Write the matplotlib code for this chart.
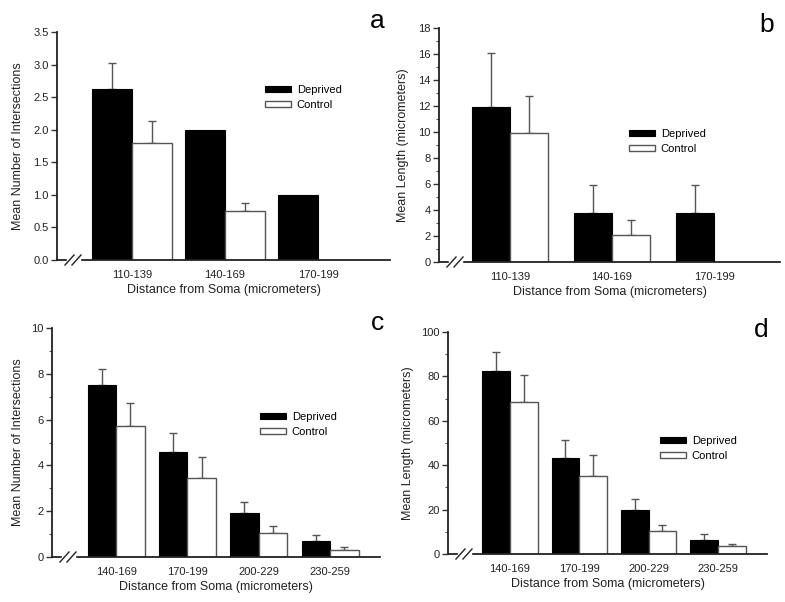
import numpy as np
import matplotlib
matplotlib.use("Agg")
import matplotlib.pyplot as plt
from matplotlib.ticker import MultipleLocator, FormatStrFormatter
from matplotlib.lines import Line2D
from matplotlib.patches import Rectangle

plt.rcParams['font.family'] = ['Liberation Sans', 'DejaVu Sans']

W, H = 785, 602

# panel a: intersections, 110-199
a_groups = ['110-139', '140-169', '170-199']
a_dep = [2.63, 2.0, 1.0]
a_dep_err = [0.39, 0, 0]
a_con = [1.80, 0.75, np.nan]
a_con_err = [0.34, 0.13, 0]

# panel b: length, 110-199
b_groups = ['110-139', '140-169', '170-199']
b_dep = [11.9, 3.8, 3.8]
b_dep_err = [4.2, 2.15, 2.15]
b_con = [9.9, 2.05, np.nan]
b_con_err = [2.85, 1.15, 0]

# panel c: intersections, 140-259
c_groups = ['140-169', '170-199', '200-229', '230-259']
c_dep = [7.52, 4.58, 1.93, 0.70]
c_dep_err = [0.68, 0.85, 0.45, 0.25]
c_con = [5.72, 3.45, 1.05, 0.32]
c_con_err = [1.0, 0.9, 0.31, 0.12]

# panel d: length, 140-259
d_groups = ['140-169', '170-199', '200-229', '230-259']
d_dep = [82.6, 43.1, 19.7, 6.3]
d_dep_err = [8.2, 8.3, 5.1, 2.6]
d_con = [68.5, 35.3, 10.5, 3.45]
d_con_err = [12.0, 9.1, 2.6, 1.05]

fig = plt.figure(figsize=(W / 100, H / 100), dpi=100)


def panel(box, groups, dep, dep_err, con, con_err, ymax, major, minor, fmt,
          xlim, width, ylabel, ylabel_x, letter, leg_xy, letter_xy):
    left, right, top, bottom = box
    ax = fig.add_axes([left / W, 1 - bottom / H, (right - left) / W, (bottom - top) / H])
    x = np.arange(len(groups))
    ax.bar(x - width / 2, dep, width, color='black', edgecolor='black', lw=0.8, label='Deprived', zorder=2)
    ax.bar(x + width / 2, con, width, color='white', edgecolor='#555555', lw=1.0, label='Control', zorder=2)
    # error bars only go up
    for xs, vals, errs in [(x - width / 2, dep, dep_err), (x + width / 2, con, con_err)]:
        vals = np.array(vals, dtype=float)
        errs = np.array(errs, dtype=float)
        m = errs > 0
        ax.errorbar(xs[m], vals[m], yerr=[np.zeros(m.sum()), errs[m]], fmt='none',
                    ecolor='#555555', elinewidth=1.0, capsize=3, capthick=1.0, zorder=1)
    ax.set_xlim(*xlim)
    ax.set_ylim(0, ymax)
    ax.set_xticks(x)
    ax.set_xticklabels(groups, fontsize=8, color='#222222')
    ax.tick_params(axis='x', length=0, pad=7)
    ax.yaxis.set_major_locator(MultipleLocator(major))
    if minor:
        ax.yaxis.set_minor_locator(MultipleLocator(minor))
    ax.yaxis.set_major_formatter(FormatStrFormatter(fmt))
    ax.tick_params(axis='y', which='major', length=4, width=1, color='#333333', labelsize=8,
                   labelcolor='#222222', pad=2)
    ax.tick_params(axis='y', which='minor', length=2, width=0.8, color='#555555')
    for s in ['top', 'right']:
        ax.spines[s].set_visible(False)
    for s in ['left', 'bottom']:
        ax.spines[s].set_color('#222222')
        ax.spines[s].set_linewidth(1.3)
    ax.set_ylabel(ylabel, fontsize=9, color='#222222')
    ax.yaxis.set_label_coords((ylabel_x - left) / (right - left), 0.5)
    ax.set_xlabel('Distance from Soma (micrometers)', fontsize=9, color='#222222')
    ax.xaxis.set_label_coords(0.5, -24 / (bottom - top))
    # legend
    lx, ly = leg_xy
    ax.legend(loc='upper left', bbox_to_anchor=((lx - left) / (right - left), (bottom - ly + 5) / (bottom - top)),
              frameon=False, fontsize=8, handlelength=2.3, handleheight=0.45,
              handletextpad=0.55, labelspacing=0.45, borderpad=0, borderaxespad=0)
    # axis break on the x axis
    bx = left + 8
    ax_px = lambda px, py: (px / W, 1 - py / H)
    fig.add_artist(Rectangle(ax_px(bx + 2, bottom + 2), 13 / W, 4 / H, transform=fig.transFigure,
                             color='white', zorder=5))
    for off in [0, 7]:
        x0, y0 = ax_px(bx + off, bottom + 5)
        x1, y1 = ax_px(bx + off + 9, bottom - 5)
        fig.add_artist(Line2D([x0, x1], [y0, y1], transform=fig.transFigure, color='#222222',
                              lw=1.0, zorder=6))
    fig.text(letter_xy[0] / W, 1 - letter_xy[1] / H, letter, fontsize=19, ha='center', va='baseline')
    return ax


ax_a = panel((57, 390, 32, 260), a_groups, a_dep, a_dep_err, a_con, a_con_err, 3.5, 0.5, None, '%.1f',
             (-0.806, 2.774), 0.43, 'Mean Number of Intersections', 24, 'a', (265, 90), (377, 28))
ax_b = panel((439, 780, 28, 262), b_groups, b_dep, b_dep_err, b_con, b_con_err, 18, 2, 1, '%d',
             (-0.696, 2.647), 0.373, 'Mean Length (micrometers)', 409, 'b', (629, 134), (767, 32))
ax_c = panel((52, 380, 328, 557), c_groups, c_dep, c_dep_err, c_con, c_con_err, 10, 2, 1, '%d',
             (-0.898, 3.70), 0.40, 'Mean Number of Intersections', 24, 'c', (260, 417), (378, 330))
ax_d = panel((448, 767, 332, 554), d_groups, d_dep, d_dep_err, d_con, d_con_err, 100, 20, 10, '%d',
             (-0.895, 3.71), 0.40, 'Mean Length (micrometers)', 414, 'd', (660, 441), (761, 337))

fig.savefig('out.png', dpi=100, facecolor='white')
